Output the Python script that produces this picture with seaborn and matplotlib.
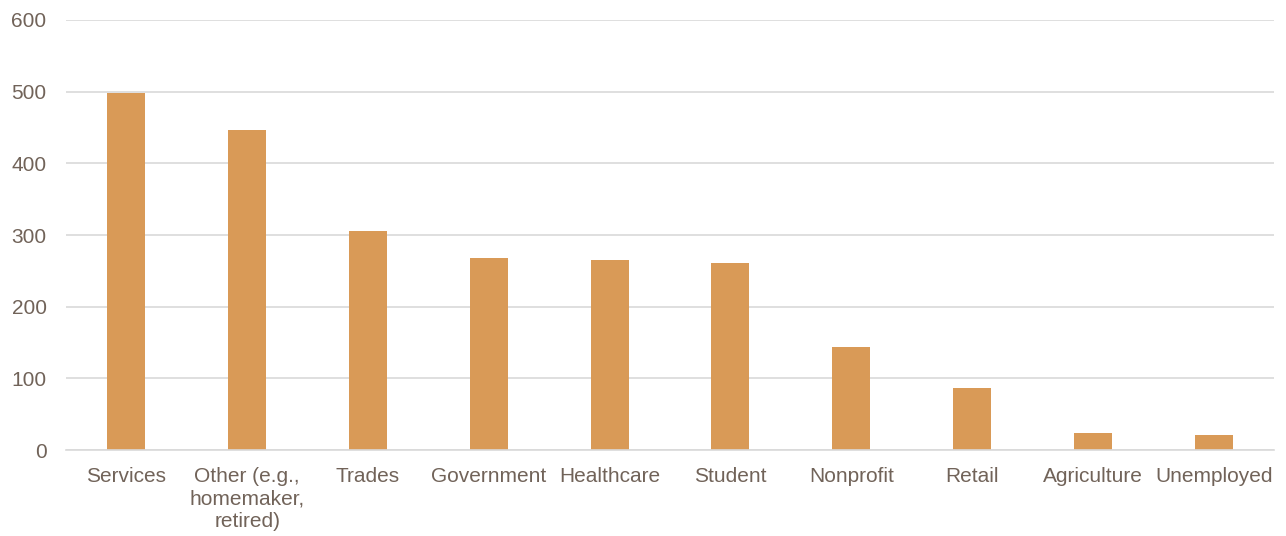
import matplotlib
matplotlib.use("Agg")
import matplotlib.pyplot as plt
import seaborn as sns
import pandas as pd

categories = ["Services", "Other (e.g.,\nhomemaker,\nretired)", "Trades", "Government",
              "Healthcare", "Student", "Nonprofit", "Retail", "Agriculture", "Unemployed"]
values = [498, 447, 306, 268, 265, 261, 144, 86, 24, 21]
yticks = [0, 100, 200, 300, 400, 500, 600]

sns.set_theme(style="white")
plt.rcParams['font.family'] = ['Liberation Sans', 'DejaVu Sans']

df = pd.DataFrame({"cat": categories, "val": values})
fig = plt.figure(figsize=(12.86, 5.36), dpi=100)
ax = fig.add_axes([0.0513, 0.1604, 0.9394, 0.8023])
sns.barplot(data=df, x="cat", y="val", color="#D99A57", saturation=1, width=0.315,
            linewidth=0, ax=ax)

ax.set_xlim(-0.5, len(categories) - 0.5)
ax.set_ylim(0, 600)
ax.set_yticks(yticks)
ax.yaxis.grid(True, color="#D9D9D9", linewidth=1.2)
ax.set_axisbelow(True)
for s in ["top", "right", "left"]:
    ax.spines[s].set_visible(False)
ax.spines["bottom"].set_color("#D9D9D9")
ax.spines["bottom"].set_linewidth(1.2)
ax.set_xlabel("")
ax.set_ylabel("")
ax.tick_params(axis="both", length=0, labelsize=15, labelcolor="#716359")
ax.tick_params(axis="y", pad=14)
ax.tick_params(axis="x", pad=12)
for t in ax.get_xticklabels():
    t.set_linespacing(1.25)
fig.savefig("out.png", dpi=100)
